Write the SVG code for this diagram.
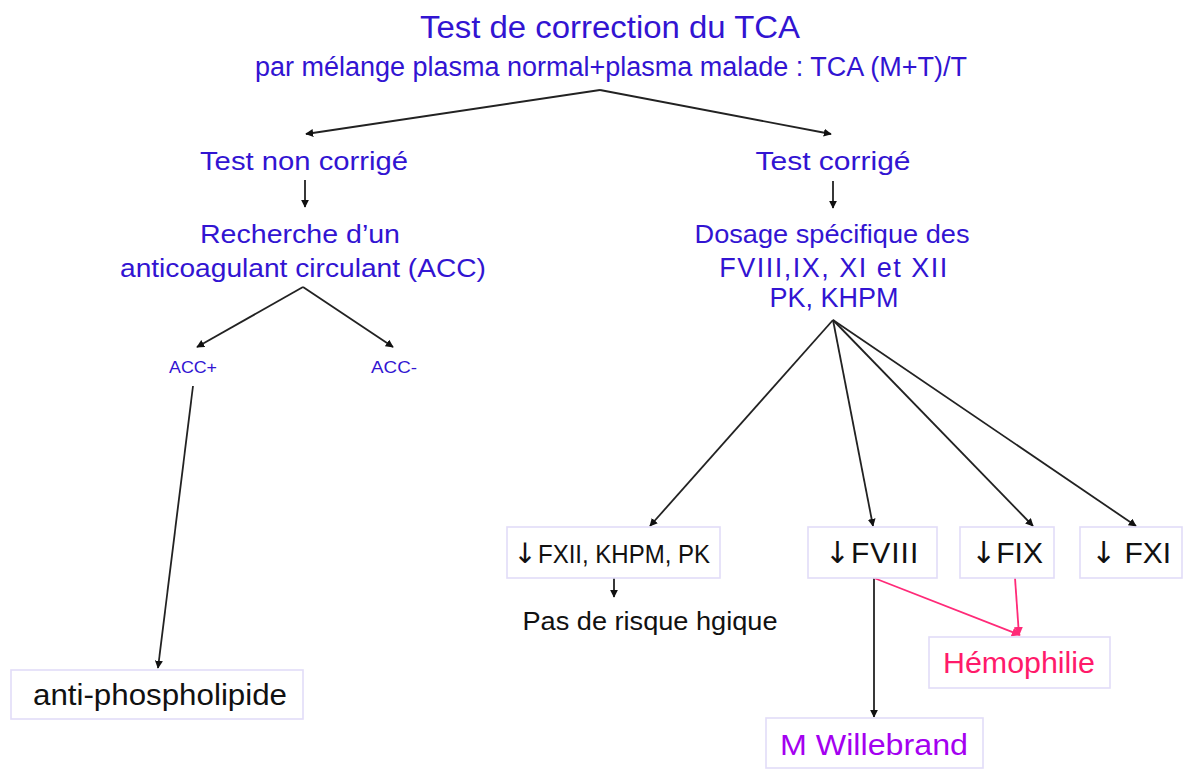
<svg xmlns="http://www.w3.org/2000/svg" width="1184" height="784" viewBox="0 0 1184 784">
  <style>
    text { font-family: "Liberation Sans", "DejaVu Sans", sans-serif; text-anchor: middle; }
    .arrow-glyph { font-family: "DejaVu Sans", sans-serif; }
    .blue { fill: #3214d2; }
    .dark { fill: #111111; }
    .pink { fill: #ff1a6a; }
    .purple { fill: #a400f0; }
    .box { fill: #ffffff; stroke: #e2dcf8; stroke-width: 1.6; }
    .edge { fill: none; stroke: #222222; stroke-width: 1.8; }
    .edge-pink { fill: none; stroke: #ff2a78; stroke-width: 1.8; }
  </style>
  <defs>
    <marker id="ah" viewBox="0 0 10 10" refX="9" refY="5" markerWidth="8" markerHeight="8" markerUnits="userSpaceOnUse" orient="auto">
      <path d="M0,0 L10,5 L0,10 z" fill="#111111"/>
    </marker>
    <marker id="ah-pink" viewBox="0 0 10 10" refX="9" refY="5" markerWidth="9" markerHeight="9" markerUnits="userSpaceOnUse" orient="auto">
      <path d="M0,0 L10,5 L0,10 z" fill="#ff2a78"/>
    </marker>
  </defs>
  <rect width="1184" height="784" fill="#ffffff"/>

  <g id="connectors">
    <path class="edge" d="M600,90 L306,134" marker-end="url(#ah)"/>
    <path class="edge" d="M600,90 L831,134" marker-end="url(#ah)"/>
    <path class="edge" d="M305,180 L305,207" marker-end="url(#ah)"/>
    <path class="edge" d="M833,181 L833,208" marker-end="url(#ah)"/>
    <path class="edge" d="M303,287 L197,347" marker-end="url(#ah)"/>
    <path class="edge" d="M303,287 L393,347" marker-end="url(#ah)"/>
    <path class="edge" d="M193,386 L158,668" marker-end="url(#ah)"/>
    <path class="edge" d="M833,320 L650,526" marker-end="url(#ah)"/>
    <path class="edge" d="M833,320 L873,526" marker-end="url(#ah)"/>
    <path class="edge" d="M833,320 L1033,526" marker-end="url(#ah)"/>
    <path class="edge" d="M833,320 L1136,526" marker-end="url(#ah)"/>
    <path class="edge" d="M614,578 L614,597" marker-end="url(#ah)"/>
    <path class="edge" d="M874,578 L874,717" marker-end="url(#ah)"/>
    <path class="edge-pink" d="M874,578 L1020,635" marker-end="url(#ah-pink)"/>
    <path class="edge-pink" d="M1015,578 L1019,635" marker-end="url(#ah-pink)"/>
  </g>

  <g id="title">
    <text class="blue" x="610" y="38" font-size="31" textLength="380" lengthAdjust="spacingAndGlyphs">Test de correction du TCA</text>
    <text class="blue" x="611" y="76" font-size="27" textLength="712" lengthAdjust="spacingAndGlyphs">par mélange plasma normal+plasma malade : TCA (M+T)/T</text>
  </g>

  <g id="test-non-corrige">
    <text class="blue" x="304" y="170" font-size="26" textLength="208" lengthAdjust="spacingAndGlyphs">Test non corrigé</text>
  </g>

  <g id="recherche-acc">
    <text class="blue" x="300" y="243" font-size="26" textLength="200" lengthAdjust="spacingAndGlyphs">Recherche d’un</text>
    <text class="blue" x="303" y="277" font-size="26" textLength="366" lengthAdjust="spacingAndGlyphs">anticoagulant circulant (ACC)</text>
  </g>

  <g id="acc-plus">
    <text class="blue" x="193" y="373" font-size="16" textLength="48" lengthAdjust="spacingAndGlyphs">ACC+</text>
  </g>

  <g id="acc-minus">
    <text class="blue" x="394" y="373" font-size="16" textLength="46" lengthAdjust="spacingAndGlyphs">ACC-</text>
  </g>

  <g id="anti-phospholipide">
    <rect class="box" x="11" y="670" width="292" height="49"/>
    <text class="dark" x="160" y="705" font-size="29" textLength="254" lengthAdjust="spacingAndGlyphs">anti-phospholipide</text>
  </g>

  <g id="test-corrige">
    <text class="blue" x="833" y="170" font-size="26" textLength="155" lengthAdjust="spacingAndGlyphs">Test corrigé</text>
  </g>

  <g id="dosage">
    <text class="blue" x="832" y="243" font-size="26" textLength="275" lengthAdjust="spacingAndGlyphs">Dosage spécifique des</text>
    <text class="blue" x="834" y="277" font-size="27" letter-spacing="1.5">FVIII,IX, XI et XII</text>
    <text class="blue" x="834" y="307" font-size="27">PK, KHPM</text>
  </g>

  <g id="fxii">
    <rect class="box" x="507" y="527" width="213" height="51"/>
    <text class="dark arrow-glyph" x="525" y="563" font-size="28">↓</text>
    <text class="dark" x="538" y="563" font-size="25" text-anchor="start" style="text-anchor:start" textLength="172" lengthAdjust="spacingAndGlyphs">FXII, KHPM, PK</text>
  </g>

  <g id="pas-de-risque">
    <text class="dark" x="650" y="630" font-size="25" textLength="255" lengthAdjust="spacingAndGlyphs">Pas de risque hgique</text>
  </g>

  <g id="fviii">
    <rect class="box" x="808" y="527" width="129" height="51"/>
    <text class="dark" x="872" y="563" font-size="30" letter-spacing="1"><tspan class="arrow-glyph">↓</tspan>FVIII</text>
  </g>

  <g id="fix">
    <rect class="box" x="960" y="527" width="94" height="51"/>
    <text class="dark" x="1007" y="563" font-size="30"><tspan class="arrow-glyph">↓</tspan>FIX</text>
  </g>

  <g id="fxi">
    <rect class="box" x="1080" y="527" width="102" height="51"/>
    <text class="dark" x="1131" y="563" font-size="30"><tspan class="arrow-glyph">↓</tspan> FXI</text>
  </g>

  <g id="hemophilie">
    <rect class="box" x="929" y="637" width="181" height="51"/>
    <text class="pink" x="1019" y="673" font-size="29" textLength="152" lengthAdjust="spacingAndGlyphs">Hémophilie</text>
  </g>

  <g id="willebrand">
    <rect class="box" x="766" y="718" width="217" height="50"/>
    <text class="purple" x="874" y="755" font-size="29" textLength="188" lengthAdjust="spacingAndGlyphs">M Willebrand</text>
  </g>
</svg>
